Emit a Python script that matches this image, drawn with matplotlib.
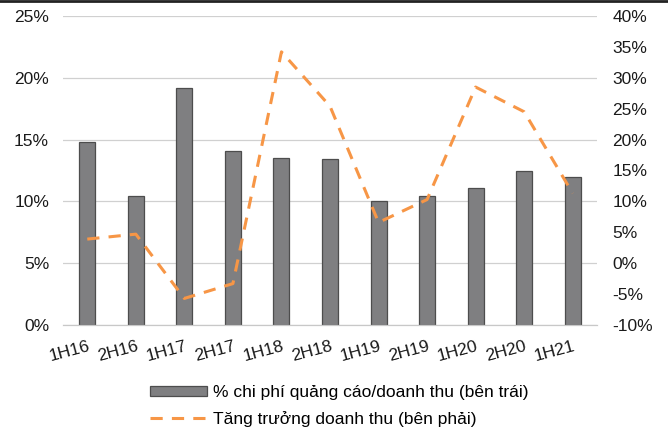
import matplotlib.pyplot as plt
from matplotlib.lines import Line2D
from matplotlib.ticker import FuncFormatter

plt.rcParams['font.family'] = ['Liberation Sans', 'DejaVu Sans']

periods = ['1H16', '2H16', '1H17', '2H17', '1H18', '2H18',
           '1H19', '2H19', '1H20', '2H20', '1H21']
ad_ratio = [14.8, 10.4, 19.2, 14.1, 13.5, 13.4, 10.0, 10.4, 11.1, 12.5, 12.0]
rev_growth = [3.9, 4.7, -5.7, -3.3, 34.2, 25.4, 6.6, 10.3, 28.5, 24.5, 11.3]

fig = plt.figure(figsize=(6.68, 4.34), dpi=100)
ax = fig.add_axes([63 / 668, 1 - 325 / 434, 534 / 668, 309 / 434])
ax2 = ax.twinx()

x = range(len(periods))
bars = ax.bar(x, ad_ratio, width=0.33, color='#7f7f81', edgecolor='#4d4d4d',
              linewidth=0.9, zorder=2, label='% chi phí quảng cáo/doanh thu (bên trái)')
line, = ax2.plot(x, rev_growth, color='#f79646', linewidth=2.2,
                 dashes=(4, 3), zorder=3, label='Tăng trưởng doanh thu (bên phải)')

pct = FuncFormatter(lambda v, _: f'{v:.0f}%')

ax.set_xlim(-0.5, len(periods) - 0.5)
ax.set_ylim(0, 25)
ax.set_yticks(range(0, 26, 5))
ax.yaxis.set_major_formatter(pct)
ax.grid(axis='y', color='#d0d0d0', linewidth=0.9, zorder=0)
ax.set_axisbelow(True)

ax2.set_ylim(-10, 40)
ax2.set_yticks(range(-10, 41, 5))
ax2.yaxis.set_major_formatter(pct)

for a in (ax, ax2):
    for side in ('top', 'left', 'right'):
        a.spines[side].set_visible(False)
    a.spines['bottom'].set_color('#c8c8c8')
    a.tick_params(length=0, labelsize=12.5, colors='#1a1a1a')
ax.tick_params(axis='y', pad=10)
ax2.tick_params(axis='y', pad=11)

ax.set_xticks(list(x))
ax.set_xticklabels(periods, rotation=15, ha='right', rotation_mode='anchor')
ax.tick_params(axis='x', pad=10)

fig.legend(handles=[bars, line], loc='center left', bbox_to_anchor=(138 / 668, 1 - 406 / 434),
           frameon=False, fontsize=12.5, handlelength=3.3, handleheight=0.45,
           labelspacing=0.6, handletextpad=0.3, borderpad=0.2)

# thin dark rule along the top edge
fig.add_artist(Line2D([0, 1], [0.998, 0.998], color='#222222', linewidth=2,
                      transform=fig.transFigure))

fig.savefig('out.png', dpi=100)
